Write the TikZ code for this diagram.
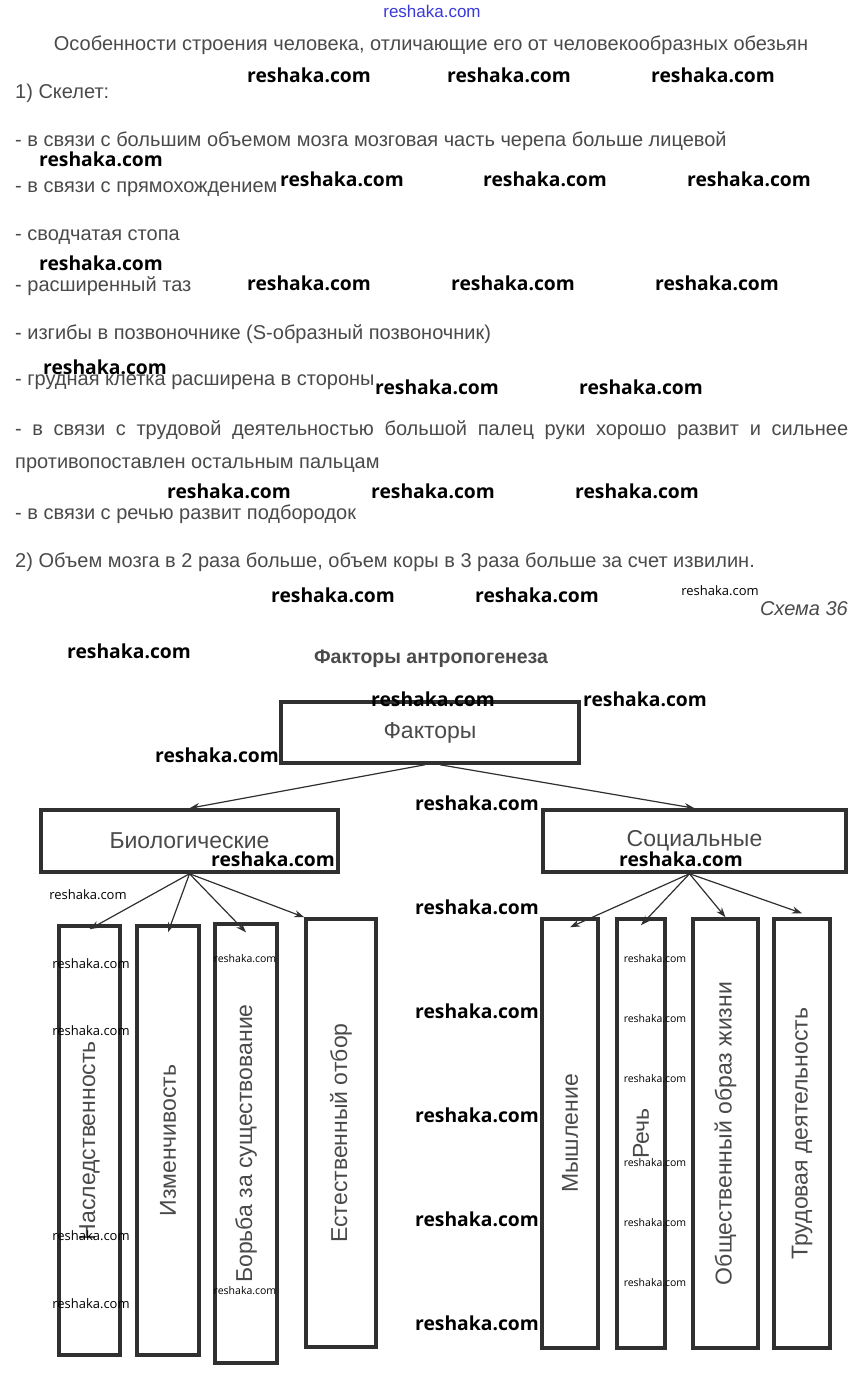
\documentclass[tikz,border=0pt]{standalone}
\usepackage{fontspec}
\setmainfont{Liberation Sans}
\newfontfamily\wmfont{Open Sans}
\usepackage{tikz}
\usetikzlibrary{arrows, arrows.meta, positioning}
\definecolor{txtgray}{HTML}{4A4A4A}
\definecolor{boxline}{HTML}{303030}
\definecolor{wmblue}{HTML}{3A3AD8}
\tikzstyle{line} = [anchor=west, inner sep=0pt, text=txtgray, font=\fontsize{20}{22}\selectfont]
\tikzstyle{topbox} = [rectangle, draw=boxline, line width=3.5pt, minimum height=62pt, text=txtgray, font=\fontsize{23}{25}\selectfont]
\tikzstyle{tallbox} = [rectangle, rotate=90, draw=boxline, line width=3.5pt, minimum width=429pt, text=txtgray, font=\fontsize{23}{25}\selectfont]
\tikzstyle{arrow} = [line width=1.2pt, -{Stealth[length=10pt, width=7pt]}, draw=boxline]
\tikzstyle{wm} = [inner sep=0pt, font=\wmfont\bfseries\fontsize{19.3}{21}\selectfont]
\tikzstyle{wmmid} = [inner sep=0pt, font=\wmfont\fontsize{13}{14}\selectfont]
\tikzstyle{wmsmall} = [inner sep=0pt, font=\wmfont\fontsize{10.5}{12}\selectfont]

\begin{document}
\begin{tikzpicture}[x=1pt, y=-1pt]
        \path[use as bounding box, fill=white] (0,0) rectangle (864,1380);

        % Text
        \node[inner sep=0pt, text=wmblue, font=\fontsize{17}{18}\selectfont] (site) at (432,11) {reshaka.com};
        \node[line, anchor=center] (title) at (431,45) {Особенности строения человека, отличающие его от человекообразных обезьян};
        \node[line] (t1) at (15,93) {1) Скелет:};
        \node[line] (t2) at (15,141) {- в связи с большим объемом мозга мозговая часть черепа больше лицевой};
        \node[line] (t3) at (15,189) {- в связи с прямохождением};
        \node[line] (t4) at (15,237) {- сводчатая стопа};
        \node[line] (t5) at (15,286) {- расширенный таз};
        \node[line] (t6) at (15,334) {- изгибы в позвоночнике (S-образный позвоночник)};
        \node[line] (t7) at (15,382) {- грудная клетка расширена в стороны};
        \node[line] (t8) at (15,430) {\makebox[833pt][s]{- в связи с трудовой деятельностью большой палец руки хорошо развит и сильнее}};
        \node[line] (t9) at (15,465) {противопоставлен остальным пальцам};
        \node[line] (t10) at (15,514) {- в связи с речью развит подбородок};
        \node[line] (t11) at (15,562) {2) Объем мозга в 2 раза больше, объем коры в 3 раза больше за счет извилин.};
        \node[line, anchor=east, font=\itshape\fontsize{20}{22}\selectfont] (scheme) at (848,609) {Схема 36};
        \node[line, anchor=center, font=\bfseries\fontsize{19.5}{21}\selectfont] (schtitle) at (431,659) {Факторы антропогенеза};

        % Boxes
        \node[topbox, minimum width=298pt, minimum height=61pt] (factors) at (430,732.5) {Факторы};
        \node[topbox, minimum width=297pt] (bio) at (189.5,841) {Биологические};
        \node[topbox, minimum width=303pt] (soc) at (694.5,841) {Социальные};

        \node[tallbox, minimum height=61pt] (hered) at (89.5,1140.5) {Наследственность};
        \node[tallbox, minimum height=62pt] (variab) at (168,1140.5) {Изменчивость};
        \node[tallbox, minimum height=62pt, minimum width=439pt] (struggle) at (246,1143.5) {Борьба за существование};
        \node[tallbox, minimum height=70pt, minimum width=428pt] (select) at (341,1133) {Естественный отбор};

        \node[tallbox, minimum height=56pt] (think) at (570,1133.5) {Мышление};
        \node[tallbox, minimum height=48pt] (speech) at (641,1133.5) {Речь};
        \node[tallbox, minimum height=65pt] (society) at (725.5,1133.5) {Общественный образ жизни};
        \node[tallbox, minimum height=56pt] (labour) at (802,1133.5) {Трудовая деятельность};

        % Arrows
        \draw [arrow] ([xshift=-5pt]factors.south) -- (bio.north);
        \draw [arrow] ([xshift=10pt]factors.south) -- (soc.north);

        \draw [arrow] (bio.south) -- ([yshift=-5pt]hered.east);
        \draw [arrow] (bio.south) -- ([yshift=-8pt]variab.east);
        \draw [arrow] (bio.south) -- ([yshift=-10pt]struggle.east);
        \draw [arrow] (bio.south) -- (select.north east);

        \draw [arrow] ([xshift=-5pt]soc.south) -- ([yshift=-10pt]think.east);
        \draw [arrow] ([xshift=-5pt]soc.south) -- ([yshift=-8pt]speech.east);
        \draw [arrow] ([xshift=-5pt]soc.south) -- (society.east);
        \draw [arrow] ([xshift=-5pt]soc.south) -- ([yshift=4pt]labour.east);

        % Watermarks
        \foreach \x/\y [count=\i] in {309/75, 509/75, 713/75, 101/159, 342/179, 545/179, 749/179,
                101/263, 309/283, 513/283, 717/283, 105/367, 437/387, 641/387, 229/491, 433/491, 637/491,
                333/595, 537/595, 129/651, 433/699, 645/699, 217/755, 477/803, 273/859, 681/859,
                477/907, 477/1011, 477/1115, 477/1219, 477/1323}
            \node[wm] (wm\i) at (\x,\y) {reshaka.com};
        \foreach \x/\y [count=\i] in {720/591, 88/895, 91/964, 91/1031, 91/1236, 91/1304}
            \node[wmmid] (wmm\i) at (\x,\y) {reshaka.com};
        \foreach \x/\y [count=\i] in {245/959, 245/1291, 655/959, 655/1019, 655/1079, 655/1163, 655/1223, 655/1283}
            \node[wmsmall] (wms\i) at (\x,\y) {reshaka.com};
    \end{tikzpicture}
\end{document}
